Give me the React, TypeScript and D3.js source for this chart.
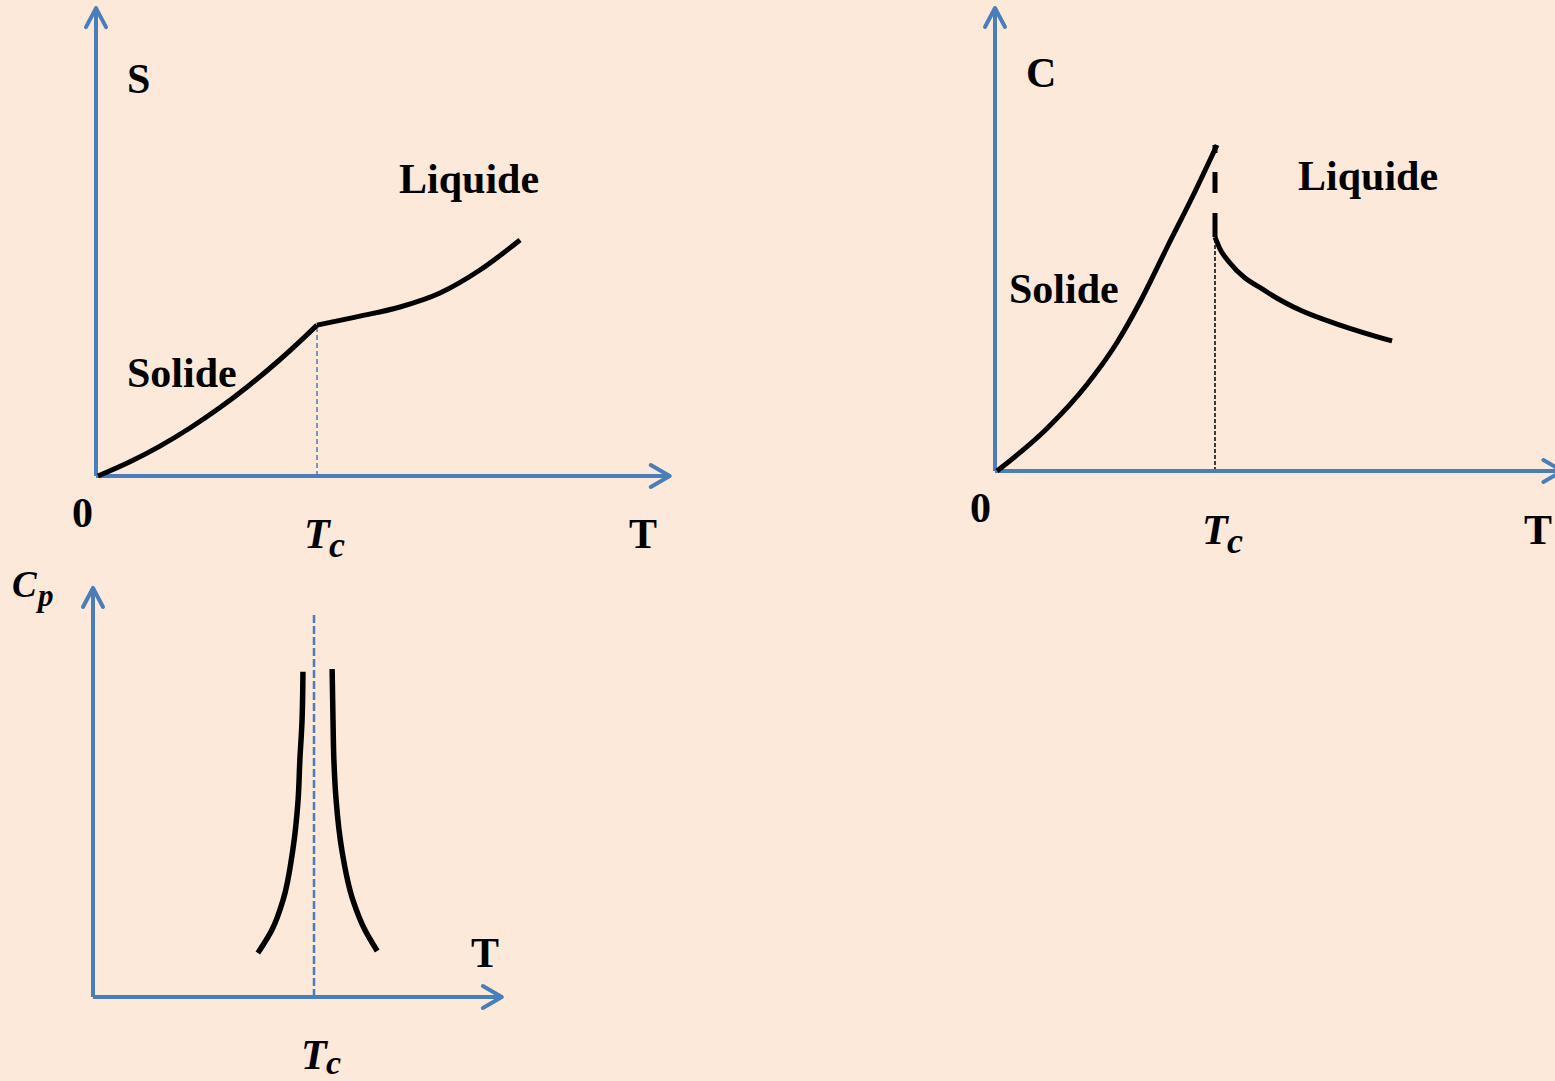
import React from "react";
import * as d3 from "d3";

const W = 1555;
const H = 1081;
const BG = "#FDE9D9";
const AXIS = "#4A7EBB";
const INK = "#000000";

// ---- Entropie S(T) ----
const sSolidT = [0.035, 0.594, 1.119, 1.643, 2.168, 2.692, 3.217, 3.654, 3.864];
const sSolidS = [0, 0.305, 0.642, 1.03, 1.468, 1.959, 2.5, 2.991, 3.238];
const sLiquidT = [3.864, 4.615, 5.315, 6.014, 6.713, 7.413];
const sLiquidS = [3.238, 3.43, 3.627, 3.927, 4.42, 5.064];
const sTc = 3.864;

// ---- Concentration C(T) ----
const cSolidT = [0.035, 0.909, 1.608, 2.133, 2.535, 3.007, 3.497, 3.881];
const cSolidC = [0, 0.918, 1.868, 2.775, 3.65, 4.827, 6.037, 7.04];
const cLiquidT = [3.846, 3.934, 4.108, 4.755, 5.332, 6.031, 6.941];
const cLiquidC = [5.05, 4.795, 4.492, 3.866, 3.477, 3.153, 2.808];
const cTc = 3.846;
const cJumpTop = 7.04;
const cJumpBottom = 5.05;

// ---- Capacité calorifique Cp(T) ----
const cpLeftT = [4.75, 4.73, 4.68, 4.64, 4.52, 4.3, 4.05, 3.73];
const cpLeftCp = [7.99, 6.81, 5.82, 4.84, 3.61, 2.38, 1.65, 1.08];
const cpRightT = [5.41, 5.43, 5.45, 5.5, 5.63, 5.88, 6.15, 6.43];
const cpRightCp = [8.06, 6.81, 5.82, 4.84, 3.61, 2.38, 1.65, 1.13];
const cpTc = 5.0;
const cpTcLineTop = 9.39;

const zip = (xs: number[], ys: number[]) => xs.map((x, i) => [x, ys[i]] as [number, number]);

type Scale = d3.ScaleLinear<number, number>;

function Axes({ x, y, xEnd, yEnd }: { x: Scale; y: Scale; xEnd: number; yEnd: number }) {
  const x0 = x(0), y0 = y(0);
  const xt = x(xEnd), yt = y(yEnd);
  return (
    <g stroke={AXIS} strokeWidth={4} fill="none" strokeLinecap="round" strokeLinejoin="round">
      <line x1={x0} y1={y0} x2={xt} y2={y0} strokeLinecap="butt" />
      <line x1={x0} y1={y0} x2={x0} y2={yt} strokeLinecap="butt" />
      <polyline points={`${xt - 19},${y0 - 11} ${xt},${y0} ${xt - 19},${y0 + 11}`} />
      <polyline points={`${x0 - 10},${yt + 19} ${x0},${yt} ${x0 + 10},${yt + 19}`} />
    </g>
  );
}

function Tc({ x, y, cy, size = 42, sub = 36 }: { x: number; y: number; cy: number; size?: number; sub?: number }) {
  return (
    <text fontFamily="'Liberation Serif', 'Times New Roman', serif" fontWeight="bold" fontStyle="italic" fill={INK}>
      <tspan x={x} y={y} fontSize={size}>T</tspan>
      <tspan x={x + 25} y={cy} fontSize={sub}>c</tspan>
    </text>
  );
}

const labelStyle = {
  fontFamily: "'Liberation Serif', 'Times New Roman', serif",
  fontWeight: "bold" as const,
  fontSize: 42,
  fill: INK,
};

export default function App() {
  const smoothX = d3.line().curve(d3.curveMonotoneX);
  const smoothY = d3.line().curve(d3.curveMonotoneY);

  // Panel scales
  const x1 = d3.scaleLinear().domain([0, 10]).range([96, 668]);
  const y1 = d3.scaleLinear().domain([0, 10]).range([476, 10]);
  const x2 = d3.scaleLinear().domain([0, 10]).range([995, 1567]);
  const y2 = d3.scaleLinear().domain([0, 10]).range([471, 8]);
  const x3 = d3.scaleLinear().domain([0, 10]).range([93, 535]);
  const y3 = d3.scaleLinear().domain([0, 10]).range([997, 590]);

  const path = (gen: d3.Line<[number, number]>, xs: Scale, ys: Scale, tv: number[], vv: number[]) =>
    gen(zip(tv, vv).map(([t, v]) => [xs(t), ys(v)] as [number, number])) || "";

  return (
    <svg width={W} height={H} style={{ position: "absolute", left: 0, top: 0, display: "block" }}>
      <rect width={W} height={H} fill={BG} />

      {/* S(T) */}
      <line x1={x1(sTc)} x2={x1(sTc)} y1={y1(0)} y2={y1(sSolidS[sSolidS.length - 1])}
        stroke={AXIS} strokeWidth={1.5} strokeDasharray="5 3" />
      <Axes x={x1} y={y1} xEnd={10.03} yEnd={10.04} />
      <path d={path(smoothX, x1, y1, sSolidT, sSolidS)} fill="none" stroke={INK} strokeWidth={5} />
      <path d={path(smoothX, x1, y1, sLiquidT, sLiquidS)} fill="none" stroke={INK} strokeWidth={5} />
      <text {...labelStyle} x={127} y={93}>S</text>
      <text {...labelStyle} x={399} y={193}>Liquide</text>
      <text {...labelStyle} x={127} y={387}>Solide</text>
      <text {...labelStyle} x={72} y={527}>0</text>
      <Tc x={304} y={548} cy={557} />
      <text {...labelStyle} x={629} y={548}>T</text>

      {/* C(T) */}
      <line x1={x2(cTc)} x2={x2(cTc)} y1={y2(0)} y2={y2(cJumpBottom)}
        stroke={INK} strokeWidth={1.5} strokeDasharray="4 2" />
      <Axes x={x2} y={y2} xEnd={9.92} yEnd={10} />
      <path d={path(smoothX, x2, y2, cSolidT, cSolidC)} fill="none" stroke={INK} strokeWidth={5} />
      <line x1={x2(cTc)} x2={x2(cTc)} y1={y2(cJumpTop)} y2={y2(cJumpBottom)}
        stroke={INK} strokeWidth={5} strokeDasharray="8 19 21 20 24" />
      <path d={path(smoothX, x2, y2, cLiquidT, cLiquidC)} fill="none" stroke={INK} strokeWidth={5} />
      <text {...labelStyle} x={1026} y={87}>C</text>
      <text {...labelStyle} x={1298} y={190}>Liquide</text>
      <text {...labelStyle} x={1009} y={303}>Solide</text>
      <text {...labelStyle} x={970} y={522}>0</text>
      <Tc x={1202} y={544} cy={553} />
      <text {...labelStyle} x={1524} y={544}>T</text>

      {/* Cp(T) */}
      <line x1={x3(cpTc)} x2={x3(cpTc)} y1={y3(0)} y2={y3(cpTcLineTop)}
        stroke={AXIS} strokeWidth={2.5} strokeDasharray="8 3" />
      <Axes x={x3} y={y3} xEnd={9.25} yEnd={10.05} />
      <path d={path(smoothY, x3, y3, cpLeftT, cpLeftCp)} fill="none" stroke={INK} strokeWidth={5.5} />
      <path d={path(smoothY, x3, y3, cpRightT, cpRightCp)} fill="none" stroke={INK} strokeWidth={5.5} />
      <text fontFamily="'Liberation Serif', 'Times New Roman', serif" fontWeight="bold" fontStyle="italic" fill={INK}>
        <tspan x={12} y={597} fontSize={37}>C</tspan>
        <tspan x={38} y={606} fontSize={31}>p</tspan>
      </text>
      <text {...labelStyle} x={471} y={967}>T</text>
      <Tc x={301} y={1069} cy={1074} sub={34} />
    </svg>
  );
}
